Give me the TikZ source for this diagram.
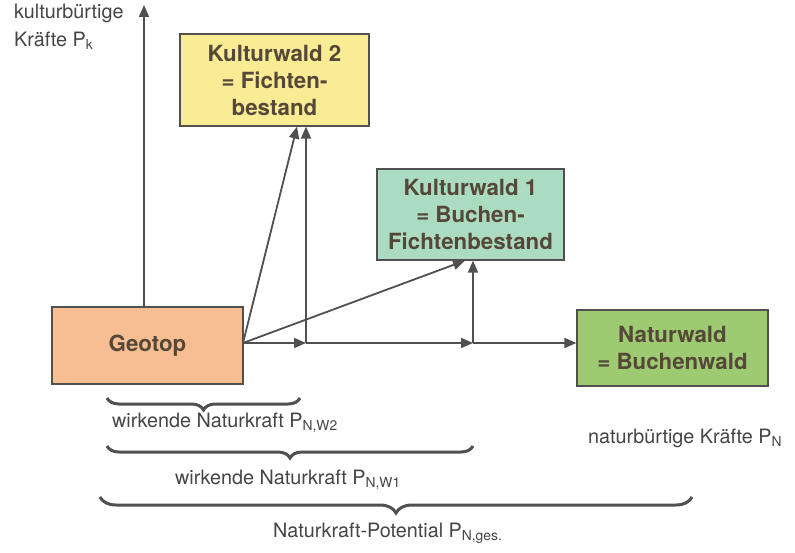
\documentclass[tikz,border=0pt]{standalone}
\usepackage{fontspec}
\setmainfont{TeX Gyre Heros}
\usetikzlibrary{arrows.meta,decorations.pathreplacing}
\definecolor{linec}{HTML}{505050}
\definecolor{txtc}{HTML}{454545}
\definecolor{boxtxt}{HTML}{554838}
\definecolor{geofill}{HTML}{F7BE92}
\definecolor{kw2fill}{HTML}{FAEC94}
\definecolor{kw1fill}{HTML}{ABDCC2}
\definecolor{natfill}{HTML}{9ECB72}
\tikzset{
  box/.style={draw=linec, line width=1.2pt, rectangle, inner sep=0pt, align=center,
    font=\fontsize{22.3}{27}\selectfont\bfseries, text=boxtxt},
  conn/.style={draw=linec, line width=1.8pt, -{Triangle[length=12pt,width=10pt]}},
  lbl/.style={font=\fontsize{19.8}{28}\selectfont, text=txtc, inner sep=0pt, align=left},
  brc/.style={draw=linec, line width=3pt, decorate, decoration={brace, mirror, amplitude=#1}}
}
\begin{document}
\begin{tikzpicture}[x=1pt,y=-1pt]
\useasboundingbox[fill=white] (0,0) rectangle (795,553);
\node[box, fill=geofill, minimum width=191pt, minimum height=77pt] (geo) at (147.5,345.5) {Geotop};
\node[box, fill=kw2fill, minimum width=189pt, minimum height=92pt] (kw2) at (274.5,80) {Kulturwald 2\\= Fichten-\\bestand};
\node[box, fill=kw1fill, minimum width=187pt, minimum height=91pt] (kw1) at (470.5,214.5) {Kulturwald 1\\= Buchen-\\Fichtenbestand};
\node[box, fill=natfill, minimum width=191pt, minimum height=76pt] (nat) at (672.5,348) {Naturwald\\= Buchenwald};

\coordinate (axtop) at (144,5);
\coordinate (o) at (243,343);
\coordinate (j1) at (306,343);
\coordinate (j2) at (473,343);

\draw[conn] (geo.north -| axtop) -- (axtop);
\draw[conn] (o) -- (j1);
\draw[conn] (j1) -- (j2);
\draw[conn] (j2) -- (j2 -| nat.west);
\draw[conn] (j1) -- (j1 |- kw2.south);
\draw[conn] (j2) -- (j2 |- kw1.south);
\draw[conn] (o) -- ([xshift=-9pt]j1 |- kw2.south);
\draw[conn] (o) -- ([xshift=-8pt]j2 |- kw1.south);

\node[lbl, anchor=north west] (kk) at (14,4) {kulturbürtige\\Kräfte P\textsubscript{k}};
\node[lbl, anchor=west] (nk) at (588,438) {naturbürtige Kräfte P\textsubscript{N}};

\coordinate (b1l) at (107,398);
\coordinate (b1r) at (300,398);
\draw[brc=12pt] (b1l) -- (b1r);
\node[lbl, anchor=west] (w2) at (112,423) {wirkende Naturkraft P\textsubscript{N,W2}};

\coordinate (b2l) at (107,446);
\coordinate (b2r) at (473,446);
\draw[brc=12pt] (b2l) -- (b2r);
\node[lbl, anchor=west] (w1) at (175,480) {wirkende Naturkraft P\textsubscript{N,W1}};

\coordinate (b3l) at (100,497);
\coordinate (b3r) at (692,497);
\draw[brc=16pt] (b3l) -- (b3r);
\node[lbl, anchor=west] (pg) at (273,533) {Naturkraft-Potential P\textsubscript{N,ges.}};
\end{tikzpicture}
\end{document}
